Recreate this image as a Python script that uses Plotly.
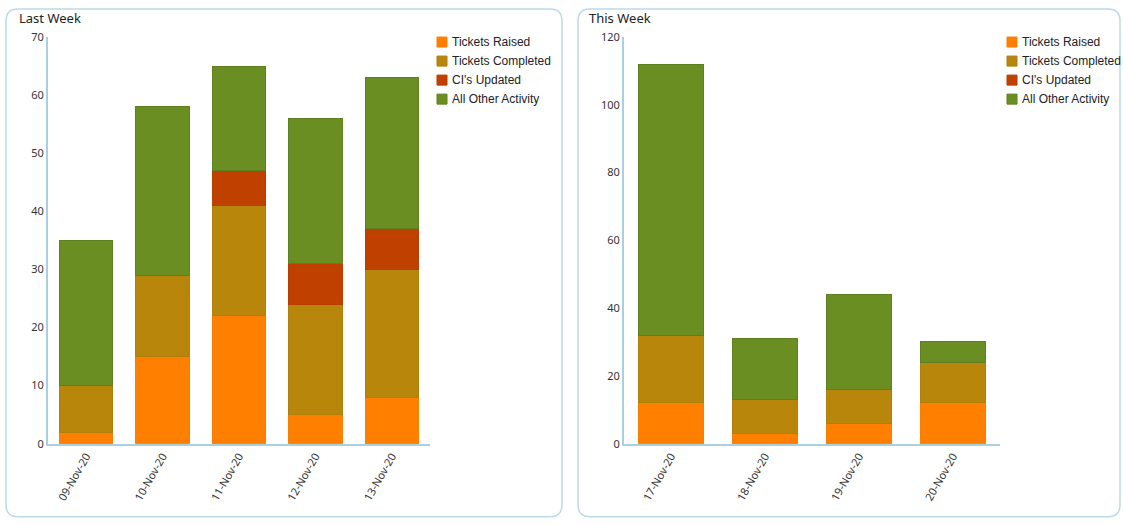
import plotly.graph_objects as go

W, H = 1123, 525
# measured mapping of the photographed page: x_img = x_fig, y_img = 8 + 0.970 * y_fig
Y_OFF, Y_SCALE = 8.0, 0.970

last_dates = ["09-Nov-20", "10-Nov-20", "11-Nov-20", "12-Nov-20", "13-Nov-20"]
last_raised = [2, 15, 22, 5, 8]
last_completed = [8, 14, 19, 19, 22]
last_ci = [0, 0, 6, 7, 7]
last_other = [25, 29, 18, 25, 26]

this_dates = ["17-Nov-20", "18-Nov-20", "19-Nov-20", "20-Nov-20"]
this_raised = [12, 3, 6, 12]
this_completed = [20, 10, 10, 12]
this_ci = [0, 0, 0, 0]
this_other = [80, 18, 28, 6]

series_names = ["Tickets Raised", "Tickets Completed", "CI's Updated", "All Other Activity"]
colors = ["#ff8000", "#b8860b", "#c04000", "#6b8e23"]
edge_colors = ["#f78000", "#b0800b", "#b83d00", "#5f8020"]

last_values = [last_raised, last_completed, last_ci, last_other]
this_values = [this_raised, this_completed, this_ci, this_other]


def px(X):
    return X / W


def py(Y):
    yf = (Y - Y_OFF) / Y_SCALE
    yf = min(max(yf, 0.5), H - 0.5)
    return 1 - yf / H


fig = go.Figure()

def nz(v):
    return [x if x else None for x in v]

for i, name in enumerate(series_names):
    fig.add_trace(go.Bar(
        x=last_dates, y=nz(last_values[i]), name=name,
        marker=dict(color=colors[i], line=dict(color=edge_colors[i], width=1)),
        width=0.7, xaxis="x", yaxis="y", showlegend=False,
    ))
for i, name in enumerate(series_names):
    fig.add_trace(go.Bar(
        x=this_dates, y=nz(this_values[i]), name=name,
        marker=dict(color=colors[i], line=dict(color=edge_colors[i], width=1)),
        width=0.7, xaxis="x2", yaxis="y2", showlegend=False,
    ))

axis_color = "#a9cfe2"
tick_font = dict(family="Noto Sans, Open Sans, sans-serif", size=11, color="#333333")
ydom = [py(443), py(37)]

common_x = dict(showline=True, linecolor=axis_color, linewidth=2, ticks="",
                showgrid=False, tickangle=-60, tickfont=tick_font, fixedrange=True)
common_y = dict(showline=True, linecolor=axis_color, linewidth=2, ticks="",
                showgrid=False, zeroline=False, tickfont=tick_font, domain=ydom)


def rounded_rect(x0, y0, x1, y1, r):
    def p(x, y):
        return f"{px(x):.5f},{py(y):.5f}"
    return (f"M {p(x0 + r, y0)} L {p(x1 - r, y0)} Q {p(x1, y0)} {p(x1, y0 + r)} "
            f"L {p(x1, y1 - r)} Q {p(x1, y1)} {p(x1 - r, y1)} L {p(x0 + r, y1)} "
            f"Q {p(x0, y1)} {p(x0, y1 - r)} L {p(x0, y0 + r)} Q {p(x0, y0)} {p(x0 + r, y0)} Z")

border = dict(color="#bcd9e8", width=1.5)
shapes = [
    dict(type="path", xref="paper", yref="paper", path=rounded_rect(6, 9, 562, 516, 12),
         line=border, fillcolor="rgba(0,0,0,0)", layer="below"),
    dict(type="path", xref="paper", yref="paper", path=rounded_rect(578, 9, 1120, 516, 12),
         line=border, fillcolor="rgba(0,0,0,0)", layer="below"),
]
title_font = dict(family="Noto Sans, Open Sans, sans-serif", size=13, color="#222222")
annotations = [
    dict(text="Last Week", x=px(17), y=py(18), xref="paper", yref="paper",
         xanchor="left", yanchor="middle", showarrow=False, font=title_font),
    dict(text="This Week", x=px(587), y=py(18), xref="paper", yref="paper",
         xanchor="left", yanchor="middle", showarrow=False, font=title_font),
]

# custom legends (one per panel)
for lx in (437, 1007):
    for i, name in enumerate(series_names):
        cy = 42 + 19 * i
        shapes.append(dict(type="rect", xref="paper", yref="paper",
                           x0=px(lx), x1=px(lx + 10),
                           y0=py(cy + 5), y1=py(cy - 5),
                           fillcolor=colors[i], line=dict(color=edge_colors[i], width=1)))
        annotations.append(dict(text=name, x=px(lx + 13), y=py(cy),
                                xref="paper", yref="paper", xanchor="left", yanchor="middle",
                                showarrow=False,
                                font=dict(family="Liberation Sans, Arial, sans-serif",
                                          size=12, color="#222222")))

fig.update_layout(
    width=W, height=H, autosize=False,
    margin=dict(l=0, r=0, t=0, b=0),
    paper_bgcolor="white", plot_bgcolor="white",
    barmode="stack", bargap=0.3,
    showlegend=False,
    xaxis=dict(domain=[px(48), px(430)], anchor="y", **common_x),
    yaxis=dict(range=[0, 70], dtick=10, anchor="x", **common_y),
    xaxis2=dict(domain=[px(624), px(1000)], anchor="y2", **common_x),
    yaxis2=dict(range=[0, 120], dtick=20, anchor="x2", **common_y),
    shapes=shapes,
    annotations=annotations,
)

fig.write_html("out.html")
